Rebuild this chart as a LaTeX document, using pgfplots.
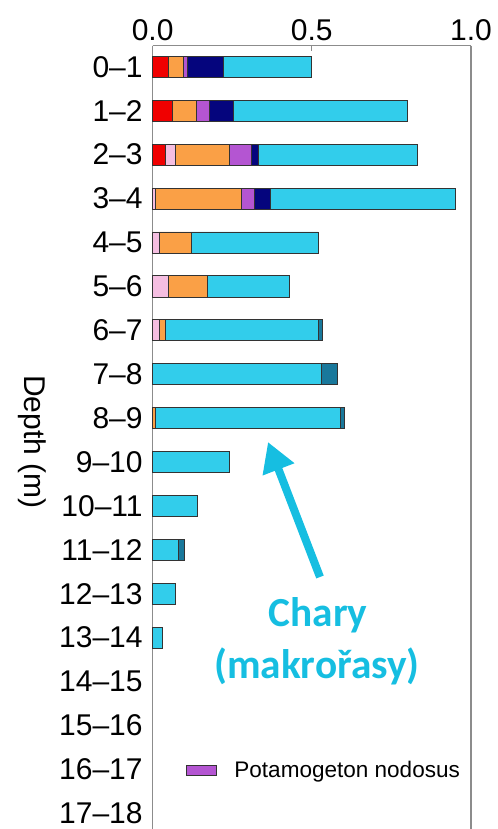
\documentclass[border=0pt]{standalone}
\usepackage{pgfplots}
\pgfplotsset{compat=1.18}
\usepackage{pgfplotstable}
\usepackage{fontspec}
\setmainfont{Liberation Sans}
\newfontfamily\carlito{Carlito}
\usetikzlibrary{arrows.meta}
\definecolor{cred}{RGB}{240,0,0}
\definecolor{cpink}{RGB}{245,190,225}
\definecolor{corange}{RGB}{250,160,70}
\definecolor{cpurple}{RGB}{180,85,210}
\definecolor{cnavy}{RGB}{5,5,125}
\definecolor{ccyan}{RGB}{50,205,235}
\definecolor{cteal}{RGB}{25,120,155}
\definecolor{annot}{RGB}{22,190,225}
\definecolor{axgray}{RGB}{140,140,140}
\pgfplotstableread{
row red pink orange purple navy cyan teal
0 0.051 0 0.046 0.013 0.111 0.278 0
1 0.062 0 0.076 0.040 0.075 0.547 0
2 0.041 0.029 0.170 0.069 0.022 0.501 0
3 0 0.008 0.271 0.041 0.051 0.580 0
4 0 0.021 0.100 0 0 0.399 0
5 0 0.050 0.122 0 0 0.259 0
6 0 0.021 0.019 0 0 0.480 0.013
7 0 0 0 0 0 0.531 0.050
8 0 0 0.008 0 0 0.581 0.012
9 0 0 0 0 0 0.241 0
10 0 0 0 0 0 0.139 0
11 0 0 0 0 0 0.081 0.018
12 0 0 0 0 0 0.070 0
13 0 0 0 0 0 0.031 0
}\data
\begin{document}
\begin{tikzpicture}
\begin{axis}[
  at={(114.5pt,-34.3pt)}, anchor=north west,
  scale only axis, width=238.7pt, height=587.5pt,
  xbar stacked, bar width=0.48,
  xmin=0, xmax=1, ymin=-0.48, ymax=17.36, y dir=reverse,
  axis x line*=top, axis y line*=left,
  axis line style={draw=axgray, line width=1pt, -},
  clip=false,
  /pgf/number format/assume math mode=true,
  xtick={0,0.5,1},
  xticklabel style={/pgf/number format/.cd, fixed, fixed zerofill, precision=1},
  xtick style={draw=axgray, line width=1pt},
  tick align=inside, major tick length=4pt,
  ytick={0,...,17},
  yticklabels={0--1,1--2,2--3,3--4,4--5,5--6,6--7,7--8,8--9,9--10,10--11,11--12,12--13,13--14,14--15,15--16,16--17,17--18},
  ytick style={draw=none},
  yticklabel style={xshift=-4pt},
  tick label style={font=\fontsize{22.5}{27}\selectfont},
  every axis plot/.append style={draw=black!80, line width=0.6pt},
  legend style={at={(0.105,0.0753)}, anchor=west, draw=none, fill=none, inner sep=0pt,
    font=\fontsize{16.9}{20}\selectfont, legend cell align=left},
]
\addlegendimage{legend image code/.code={\draw[fill=cpurple, draw=black!80, line width=0.6pt] (0pt,-3.75pt) rectangle (22.5pt,3.75pt); \path[draw=none] (0pt,0pt) -- (33.75pt,0pt);}}
\addlegendentry{Potamogeton nodosus}
\addplot[fill=cred] table[x=red, y=row] {\data};
\addplot[fill=cpink] table[x=pink, y=row] {\data};
\addplot[fill=corange] table[x=orange, y=row] {\data};
\addplot[fill=cpurple] table[x=purple, y=row] {\data};
\addplot[fill=cnavy] table[x=navy, y=row] {\data};
\addplot[fill=ccyan] table[x=cyan, y=row] {\data};
\addplot[fill=cteal] table[x=teal, y=row] {\data};
\draw[draw=axgray, line width=1pt] (rel axis cs:1,0) -- (rel axis cs:1,1);
\end{axis}
\begin{scope}[x=0.75pt,y=-0.75pt]
\node[rotate=-90, font=\fontsize{22.5}{27}\selectfont] at (32,442) {Depth (m)};
\draw[line width=6pt, color=annot, -{Triangle[length=22pt,width=24pt]}] (320,577) -- (268,442);
\node[anchor=base, font=\carlito\bfseries\fontsize{31}{38}\selectfont, text=annot] at (318,626.7) {Chary};
\node[anchor=base, font=\carlito\bfseries\fontsize{31}{38}\selectfont, text=annot] at (317,678) {(makrořasy)};
\end{scope}
\pgfresetboundingbox
\path[use as bounding box] (0pt,0pt) rectangle (372.75pt,-621.75pt);
\end{tikzpicture}
\end{document}
